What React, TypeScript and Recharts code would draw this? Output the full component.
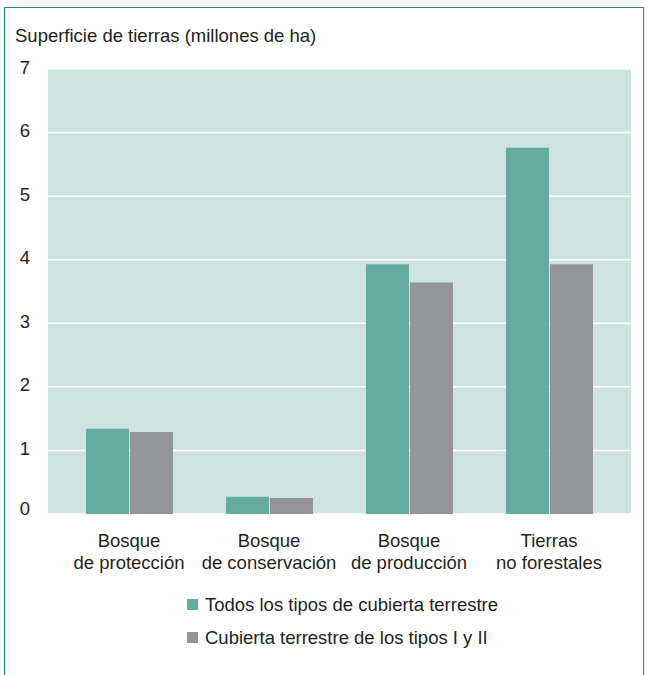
import React from "react";
import { BarChart, Bar, XAxis, YAxis, CartesianGrid, Legend } from "recharts";

const categories = [
  "Bosque\nde protección",
  "Bosque\nde conservación",
  "Bosque\nde producción",
  "Tierras\nno forestales",
];
const todosValues = [1.34, 0.27, 3.93, 5.76];
const tiposValues = [1.29, 0.25, 3.64, 3.93];
const yTicks = [0, 1, 2, 3, 4, 5, 6, 7];
const seriesNames = [
  "Todos los tipos de cubierta terrestre",
  "Cubierta terrestre de los tipos I y II",
];

const TEAL = "#66ab9f";
const GRAY = "#939598";
const BG = "#cce3df";
const TEXT = "#231f20";
const FONT = "'Liberation Sans', Arial, Helvetica, sans-serif";
const FS = 18.5;

const data = categories.map((c, i) => ({
  name: c,
  todos: todosValues[i],
  tipos: tiposValues[i],
}));

const XTick = (props: any) => {
  const { x, y, payload } = props;
  const lines = String(payload.value).split("\n");
  return (
    <g transform={`translate(${x},${y})`}>
      {lines.map((l, i) => (
        <text
          key={i}
          x={0}
          y={25 + i * 22}
          textAnchor="middle"
          fill={TEXT}
          fontSize={FS}
          fontFamily={FONT}
        >
          {l}
        </text>
      ))}
    </g>
  );
};

const YTick = (props: any) => {
  const { x, y, payload } = props;
  const off = payload.value === 0 ? -6 : -2;
  return (
    <text
      x={x}
      y={y + off}
      dy="0.355em"
      textAnchor="end"
      fill={TEXT}
      fontSize={FS}
      fontFamily={FONT}
    >
      {payload.value}
    </text>
  );
};

const renderLegend = () => (
  <div style={{ fontFamily: FONT, fontSize: FS, color: TEXT }}>
    {seriesNames.map((n, i) => (
      <div
        key={n}
        style={{ display: "flex", alignItems: "center", height: 33, whiteSpace: "nowrap" }}
      >
        <span
          style={{
            display: "inline-block",
            width: 11,
            height: 11,
            background: i === 0 ? TEAL : GRAY,
            marginRight: 7,
          }}
        />
        <span>{n}</span>
      </div>
    ))}
  </div>
);

export default function App() {
  return (
    <div
      style={{
        position: "fixed",
        left: 0,
        top: 0,
        width: 648,
        height: 675,
        background: "#fff",
        overflow: "hidden",
      }}
    >
      <div
        style={{
          position: "absolute",
          left: 4,
          top: 7,
          width: 640,
          height: 700,
          border: "1.5px solid #2b8a78",
          boxSizing: "border-box",
        }}
      />
      <div
        style={{
          position: "absolute",
          left: 15,
          top: 25,
          fontFamily: FONT,
          fontSize: FS,
          color: TEXT,
          whiteSpace: "nowrap",
        }}
      >
        Superficie de tierras (millones de ha)
      </div>
      <div style={{ position: "absolute", left: 0, top: 0 }}>
        <BarChart
          width={648}
          height={675}
          data={data}
          margin={{ top: 69, right: 17, bottom: 0, left: 0 }}
          barSize={43}
          barGap={1}
        >
          <CartesianGrid
            vertical={false}
            stroke="#ffffff"
            strokeWidth={1.5}
            fill={BG}
          />
          <XAxis
            dataKey="name"
            axisLine={false}
            tickLine={false}
            tick={<XTick />}
            interval={0}
            padding={{ left: 11, right: 12 }}
            height={95}
          />
          <YAxis
            domain={[0, 7]}
            ticks={yTicks}
            axisLine={false}
            tickLine={false}
            width={48}
            tickMargin={12}
            tick={<YTick />}
          />
          <Legend
            content={renderLegend}
            wrapperStyle={{ position: "absolute", left: 187, top: 588, width: 420 }}
          />
          <Bar dataKey="todos" fill={TEAL} isAnimationActive={false} />
          <Bar dataKey="tipos" fill={GRAY} isAnimationActive={false} />
        </BarChart>
      </div>
    </div>
  );
}
